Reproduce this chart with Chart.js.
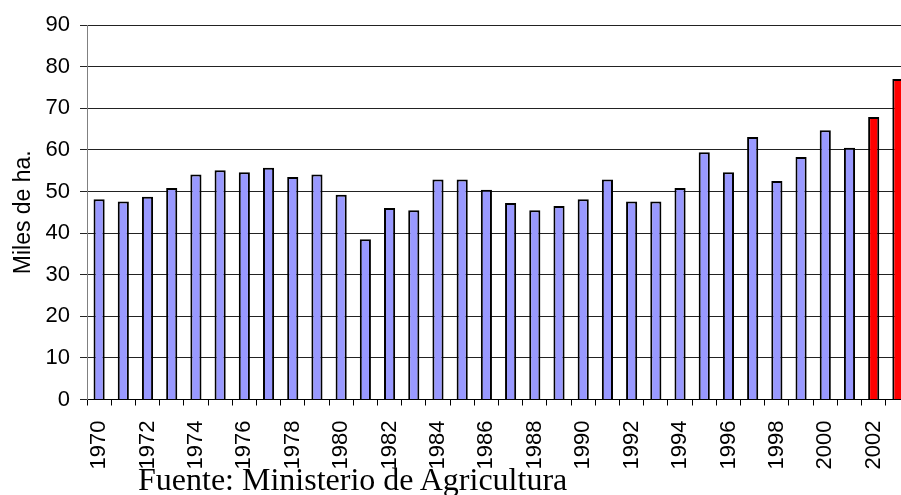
<!DOCTYPE html>
<html>
<head>
<meta charset="utf-8">
<script src="https://cdn.jsdelivr.net/npm/chart.js@4/dist/chart.umd.min.js"></script>
<style>
  html, body { margin: 0; padding: 0; background: #fff; overflow: hidden; }
  #wrap { position: relative; width: 920px; height: 495px; }
  #fuente {
    position: absolute; left: 138px; top: 463px;
    font-family: "Liberation Serif", "Times New Roman", serif;
    font-size: 32px; line-height: 32px; color: #000; white-space: nowrap;
  }
</style>
</head>
<body>
<div id="wrap">
  <canvas id="chart" width="920" height="495"></canvas>
  <div id="fuente">Fuente: Ministerio de Agricultura</div>
</div>
<script>
let years = [1970, 1971, 1972, 1973, 1974, 1975, 1976, 1977, 1978, 1979,
             1980, 1981, 1982, 1983, 1984, 1985, 1986, 1987, 1988, 1989,
             1990, 1991, 1992, 1993, 1994, 1995, 1996, 1997, 1998, 1999,
             2000, 2001, 2002, 2003];

// miles de hectareas
let superficie = [48.1, 47.6, 48.7, 50.8, 54.1, 55.1, 54.6, 55.7, 53.5, 54.1,
                  49.2, 38.5, 46.0, 45.5, 52.9, 52.9, 50.4, 47.2, 45.5, 46.5,
                  48.1, 52.9, 47.6, 47.6, 50.8, 59.4, 54.6, 63.1, 52.5, 58.3,
                  64.7, 60.5, 67.9, 77.0];

let yTicks = [0, 10, 20, 30, 40, 50, 60, 70, 80, 90];

let firstRedYear = 2002;

let ctx = document.getElementById('chart').getContext('2d');

let chart = new Chart(ctx, {
    type: 'bar',
    data: {
        labels: years.map(String),
        datasets: [{
            data: superficie,
            backgroundColor: c => years[c.dataIndex] >= firstRedYear ? '#ff0000' : '#9999ff',
            borderColor: '#000',
            borderWidth: 2,
            barPercentage: 0.46,
            categoryPercentage: 1
        }]
    },
    options: {
        responsive: false,
        animation: false,
        layout: { padding: { top: 25, right: 10, left: 0, bottom: 0 } },
        plugins: { legend: { display: false }, tooltip: { enabled: false } },
        scales: {
            x: {
                afterFit: s => { s.height = 95.5; s.paddingRight = 0; s.paddingLeft = 0; },
                grid: {
                    offset: true,
                    drawOnChartArea: false,
                    color: '#000',
                    tickLength: 6
                },
                border: { color: '#000', width: 1 },
                ticks: {
                    autoSkip: false,
                    minRotation: 90,
                    maxRotation: 90,
                    padding: 15,
                    color: '#000',
                    font: { family: 'Liberation Sans, Arial, sans-serif', size: 22 },
                    callback: (v, i) => years[i] % 2 === 0 ? String(years[i]) : ''
                }
            },
            y: {
                min: 0,
                max: 90,
                afterFit: s => { s.width = 87; },
                afterBuildTicks: s => { s.ticks = yTicks.map(v => ({ value: v })); },
                grid: { color: '#222', tickLength: 7 },
                border: { color: '#808080', width: 1 },
                ticks: {
                    padding: 10,
                    color: '#000',
                    font: { family: 'Liberation Sans, Arial, sans-serif', size: 22 }
                },
                title: {
                    display: true,
                    text: 'Miles de ha.',
                    color: '#000',
                    padding: { top: 10, bottom: 0 },
                    font: { family: 'Liberation Sans, Arial, sans-serif', size: 23 }
                }
            }
        }
    }
});
</script>
</body>
</html>
